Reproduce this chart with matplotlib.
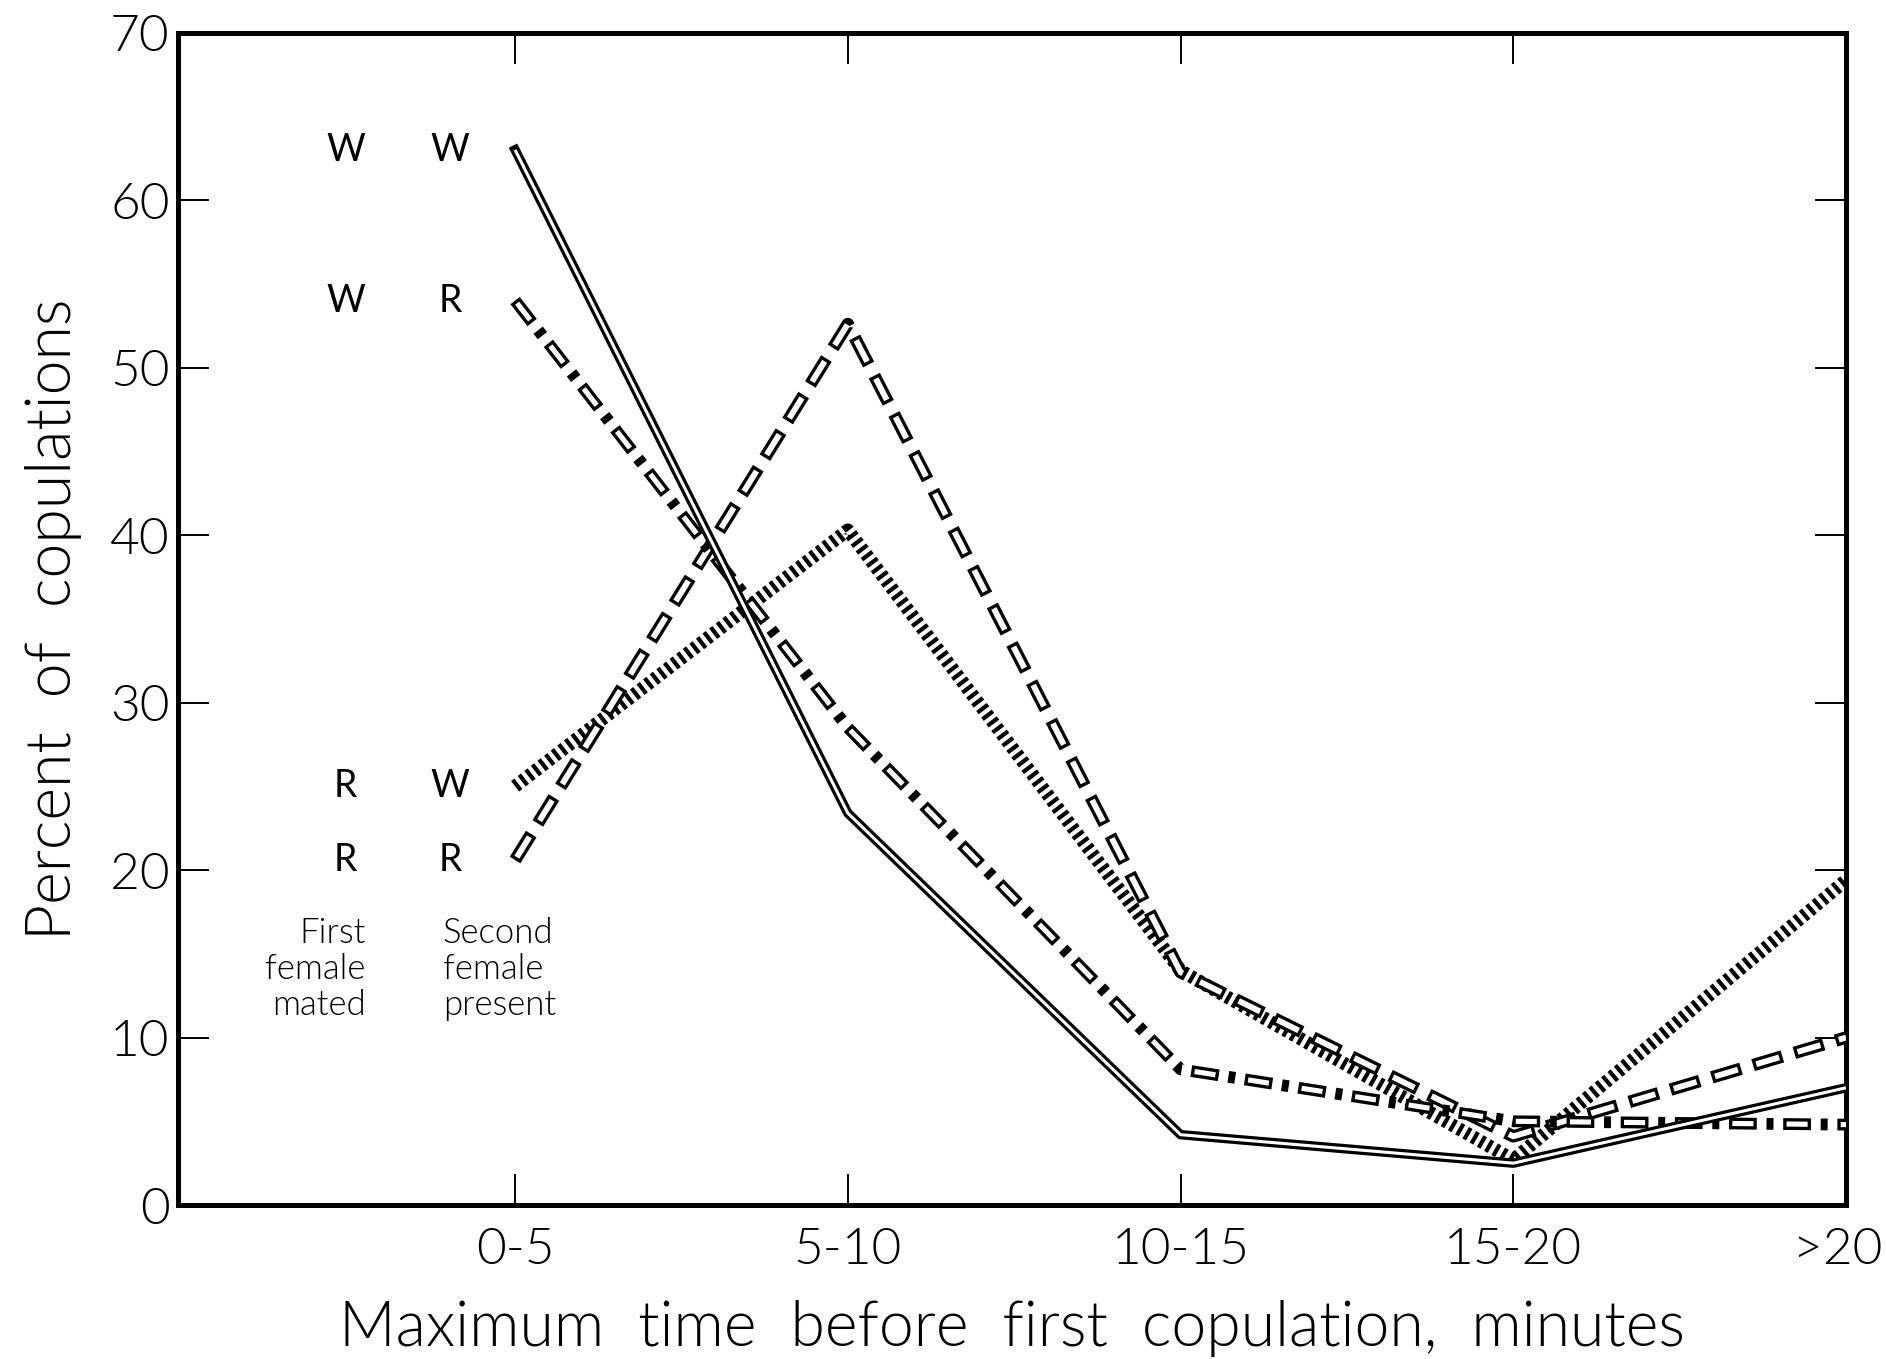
import numpy as np
import matplotlib

matplotlib.use("Agg")
import matplotlib.pyplot as plt
import matplotlib.transforms as mtransforms

# time classes before first copulation (minutes)
categories = ["0-5", "5-10", "10-15", "15-20", ">20"]

# percent of copulations; first letter = first female mated, second = second female present
ww = [63.0, 23.4, 4.2, 2.5, 7.0]
wr = [54.0, 28.5, 8.1, 5.0, 4.8]
rw = [25.0, 40.3, 14.0, 2.7, 19.4]
rr = [20.6, 52.6, 13.9, 4.1, 10.0]

pair_first = ["W", "W", "R", "R"]
pair_second = ["W", "R", "W", "R"]

yticks = np.arange(0, 71, 10)

plt.rcParams["font.family"] = ["Lato", "DejaVu Sans"]
plt.rcParams["font.weight"] = 300
plt.rcParams["axes.labelweight"] = 300
plt.rcParams["lines.scale_dashes"] = False


def hollow_line(ax, x, y, width, rim, dashes=None, zorder=3):
    """draw an outlined (hollow) line, solid or dashed. dashes in points."""
    if dashes is None:
        ax.plot(x, y, color="k", lw=width, solid_capstyle="projecting", zorder=zorder)
        ax.plot(x, y, color="w", lw=width - 2 * rim, solid_capstyle="butt", zorder=zorder)
        return
    period = sum(dashes)
    on = dashes[0]
    ax.plot(x, y, color="k", lw=width, linestyle=(0, dashes),
            dash_capstyle="butt", zorder=zorder)
    ax.plot(x, y, color="w", lw=width - 2 * rim,
            linestyle=(period - rim, (on - 2 * rim, period - on + 2 * rim)),
            dash_capstyle="butt", zorder=zorder)


fig = plt.figure(figsize=(18.86, 13.59), dpi=100)
ax = fig.add_axes([0.0944, 0.1133, 0.8844, 0.8627])

x = np.arange(len(categories))

# R x W : heavy dotted line
ax.plot(x, rw, color="k", lw=9.5, linestyle=(0, (3, 3)), dash_capstyle="butt", zorder=2)
# R x R : hollow dashes
hollow_line(ax, x, rr, 9.0, 2.4, dashes=(22, 9), zorder=3)
# W x R : hollow dash + dot
hollow_line(ax, x, wr, 8.5, 2.4, dashes=(20, 7, 5, 7), zorder=4)
# W x W : double solid line
hollow_line(ax, x, ww, 6.8, 2.3, zorder=5)

# pair labels at the start of each line
for first, second, series in zip(pair_first, pair_second, [ww, wr, rw, rr]):
    ax.text(-0.51, series[0], first, fontsize=27, fontweight="normal", ha="center", va="center")
    ax.text(-0.195, series[0], second, fontsize=27, fontweight="normal", ha="center", va="center")

ax.text(-0.449, 14.1, "First\nfemale\nmated", fontsize=25, ha="right", va="center",
        multialignment="right", linespacing=1.15)
ax.text(-0.217, 14.1, "Second\nfemale\npresent", fontsize=25, ha="left", va="center",
        multialignment="left", linespacing=1.15)

ax.set_xlim(-1.013, 4.0)
ax.set_ylim(0, 70)
ax.set_xticks(x)
ax.set_xticklabels(categories)
ax.set_yticks(yticks)

ax.tick_params(axis="both", direction="in", length=22, width=1.4, labelsize=37,
               top=True, right=True)
ax.tick_params(axis="x", pad=16)
ax.tick_params(axis="y", pad=6)
for sp in ax.spines.values():
    sp.set_linewidth(3.6)

# last label sits at the right edge of the sheet, keep it inside
last = ax.get_xticklabels()[-1]
last.set_horizontalalignment("right")
last.set_transform(last.get_transform()
                   + mtransforms.ScaledTranslation(26 / 72, 0, fig.dpi_scale_trans))

ax.set_xlabel("Maximum  time  before  first  copulation,  minutes", fontsize=45, labelpad=19)
ax.set_ylabel("Percent  of  copulations", fontsize=45, labelpad=20)

plt.savefig("out.png", dpi=100)
